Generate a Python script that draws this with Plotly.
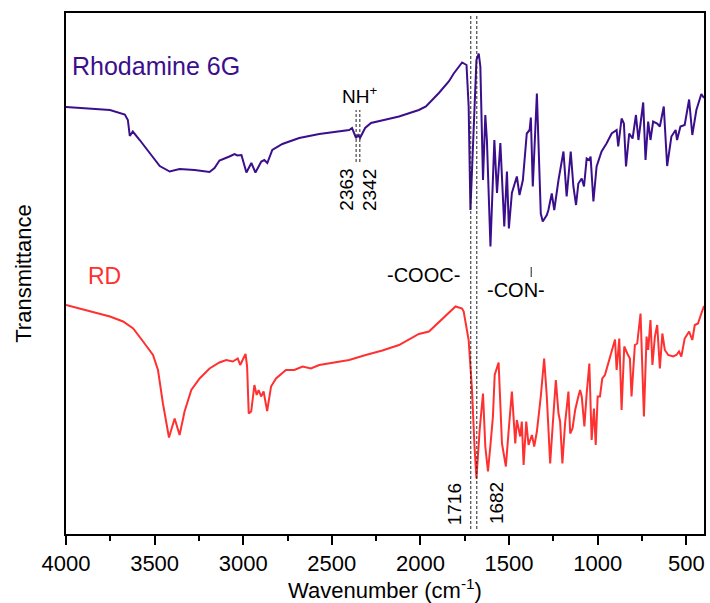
import plotly.graph_objects as go

# ---- data (wavenumber in cm^-1, transmittance in arbitrary offset units) ----
r6g_wn = [4000, 3752, 3668, 3651, 3640, 3623, 3584, 3527, 3471, 3415, 3359, 3274, 3190, 3162,
          3134, 3078, 3049, 3033, 3010, 2982, 2954, 2931, 2898, 2881, 2864, 2836, 2779, 2740,
          2684, 2571, 2459, 2402, 2386, 2363, 2352, 2341, 2312, 2279, 2206, 2121, 2009, 1969,
          1896, 1840, 1812, 1765, 1740, 1728, 1718, 1699, 1684, 1671, 1662, 1647, 1634, 1625,
          1605, 1583, 1568, 1549, 1527, 1512, 1501, 1484, 1456, 1441, 1422, 1400, 1384, 1377,
          1366, 1343, 1334, 1321, 1310, 1287, 1278, 1259, 1245, 1221, 1193, 1175, 1152, 1137,
          1122, 1109, 1090, 1077, 1062, 1047, 1040, 1024, 1006, 978, 950, 921, 893, 884, 865,
          852, 840, 822, 803, 784, 770, 743, 730, 715, 702, 687, 664, 649, 627, 608, 584, 560,
          552, 533, 509, 484, 466, 443, 415, 400]
r6g_T = [85.4, 84.8, 83.9, 82.8, 79.6, 80.5, 78.8, 76.2, 73.6, 72.5, 73.0, 72.8, 72.4, 73.2,
         74.7, 75.5, 76.0, 75.7, 75.8, 72.3, 74.2, 72.3, 74.5, 74.8, 74.2, 76.8, 78.0, 78.5,
         79.2, 80.0, 80.6, 80.8, 81.2, 79.2, 79.8, 79.2, 81.2, 82.2, 82.8, 83.5, 84.8, 85.5,
         88.2, 90.5, 92.1, 94.3, 93.8, 85.5, 64.8, 82.2, 94.8, 96.1, 93.5, 70.8, 83.8, 78.8,
         57.5, 78.8, 68.2, 78.2, 61.5, 72.5, 61.1, 68.2, 71.5, 67.8, 70.8, 80.1, 80.8, 83.3,
         69.5, 88.1, 78.8, 64.1, 62.5, 63.8, 64.8, 68.1, 64.8, 70.8, 76.5, 67.5, 76.5, 69.5,
         65.8, 70.1, 71.1, 69.5, 75.1, 74.8, 75.5, 66.5, 73.5, 76.5, 78.1, 80.1, 80.8, 77.5, 83.1,
         82.1, 73.5, 80.1, 79.1, 83.8, 78.8, 86.3, 74.8, 82.5, 78.8, 82.5, 82.1, 81.5, 85.5, 73.6,
         79.5, 80.8, 78.8, 81.5, 81.8, 86.9, 79.8, 84.8, 88.0, 87.2]

rd_wn = [4000, 3865, 3752, 3678, 3621, 3565, 3509, 3481, 3453, 3419, 3387, 3359, 3331, 3293,
         3246, 3190, 3134, 3096, 3059, 3031, 3017, 2987, 2978, 2969, 2955, 2937, 2924, 2913,
         2899, 2885, 2865, 2843, 2815, 2759, 2712, 2665, 2618, 2571, 2496, 2402, 2309, 2215,
         2121, 2009, 1952, 1896, 1840, 1802, 1765, 1756, 1728, 1709, 1695, 1684, 1666, 1647,
         1634, 1619, 1605, 1591, 1581, 1559, 1540, 1518, 1502, 1484, 1465, 1456, 1437, 1428,
         1418, 1403, 1390, 1371, 1358, 1343, 1321, 1302, 1287, 1268, 1253, 1236, 1221, 1212,
         1199, 1184, 1165, 1155, 1142, 1127, 1109, 1099, 1090, 1075, 1062, 1047, 1034, 1021,
         1011, 1000, 987, 974, 959, 930, 902, 893, 878, 865, 850, 833, 818, 809, 790, 777, 758,
         739, 724, 715, 702, 691, 677, 664, 649, 635, 621, 602, 574, 556, 541, 528, 509, 484,
         466, 452, 434, 415, 400]
rd_T = [45.8, 44.5, 43.5, 42.5, 41.1, 38.5, 35.8, 32.8, 26.1, 19.3, 23.1, 19.8, 24.5, 28.8,
        31.1, 33.1, 34.3, 34.8, 34.5, 35.1, 33.8, 36.0, 33.5, 24.1, 24.5, 29.8, 27.8, 28.8,
        27.5, 28.5, 24.6, 29.5, 31.1, 32.8, 32.8, 33.5, 33.1, 33.8, 34.3, 34.8, 35.8, 36.7,
        37.8, 40.0, 40.5, 42.3, 44.1, 45.5, 45.1, 44.5, 38.8, 28.8, 17.5, 11.1, 20.8, 28.1,
        17.5, 12.5, 17.8, 23.5, 31.8, 34.3, 18.1, 13.5, 20.8, 28.5, 18.1, 22.8, 19.5, 22.5,
        13.8, 22.5, 17.8, 19.8, 17.5, 20.5, 27.5, 35.1, 27.5, 14.1, 22.1, 30.8, 24.1, 22.5,
        14.1, 22.1, 28.5, 20.1, 21.1, 24.8, 27.5, 28.8, 27.5, 21.5, 28.1, 34.1, 18.8, 25.1,
        17.8, 27.5, 27.5, 31.1, 31.8, 35.5, 38.9, 32.8, 39.1, 24.8, 37.5, 36.1, 35.1, 27.5, 37.8,
        38.1, 44.1, 23.5, 39.5, 36.8, 42.8, 33.8, 39.5, 41.8, 33.1, 40.1, 36.8, 35.8, 35.5,
        35.8, 36.5, 35.5, 39.1, 40.5, 38.8, 41.8, 42.1, 44.1, 45.6]

nh_peaks = [2363, 2342]
main_peaks = [1716, 1682]
x_ticks = [4000, 3500, 3000, 2500, 2000, 1500, 1000, 500]

PURPLE = "#3b0f8c"
RED = "#ff3030"
FONT = "Liberation Sans, Arial, sans-serif"

fig = go.Figure()
fig.add_trace(go.Scatter(x=r6g_wn, y=r6g_T, mode="lines",
                         line=dict(color=PURPLE, width=2), showlegend=False))
fig.add_trace(go.Scatter(x=rd_wn, y=rd_T, mode="lines",
                         line=dict(color=RED, width=2), showlegend=False))

# dashed marker lines
for w in nh_peaks:
    fig.add_shape(type="line", x0=w, x1=w, y0=74.4, y1=84.8, xref="x", yref="y",
                  line=dict(color="#222", width=1, dash="3px,2px"))
for w in main_peaks:
    fig.add_shape(type="line", x0=w, x1=w, y0=1.0, y1=103.8, xref="x", yref="y",
                  line=dict(color="#222", width=1, dash="3px,2px"))
# small bond stroke above N of -CON-
fig.add_shape(type="line", x0=1375, x1=1375, y0=51.4, y1=53.4, xref="x", yref="y",
              line=dict(color="#222", width=1))

def ann(text, x, y, size, color="black", angle=0, xanchor="center"):
    fig.add_annotation(text=text, x=x, y=y, xref="x", yref="y", showarrow=False,
                       font=dict(family=FONT, size=size, color=color),
                       textangle=angle, xanchor=xanchor, yanchor="middle")

ann("Rhodamine 6G", 3977, 93.6, 25, PURPLE, xanchor="left")
ann("RD", 3887, 51.6, 23, RED, xanchor="left")
ann("NH<sup>+</sup>", 2346, 87.8, 19)
ann("2363", 2422, 68.8, 19, angle=-90)
ann("2342", 2290, 68.8, 19, angle=-90)
ann("1716", 1809, 6.0, 19, angle=-90)
ann("1682", 1573, 6.2, 19, angle=-90)
ann("-COOC-", 1981, 51.8, 20)
ann("-CON-", 1463, 48.8, 20)

fig.update_layout(
    width=710, height=603,
    margin=dict(l=66, r=4, t=13, b=69),
    paper_bgcolor="white", plot_bgcolor="white",
    font=dict(family=FONT, size=22, color="black"),
    xaxis=dict(range=[4000, 400], tickvals=x_ticks, ticks="outside", ticklen=9,
               tickwidth=2, tickcolor="black", showline=True, linecolor="black",
               linewidth=2, mirror=True, showgrid=False, zeroline=False,
               tickfont=dict(size=22),
               minor=dict(dtick=250, tick0=0, ticks="outside", ticklen=5, tickwidth=2,
                          tickcolor="black", showgrid=False),
               title=dict(text="Wavenumber (cm<sup>-1</sup>)", font=dict(size=22), standoff=4)),
    yaxis=dict(range=[0, 104.2], showticklabels=False, ticks="", showline=True,
               linecolor="black", linewidth=2, mirror=True, showgrid=False, zeroline=False,
               title=dict(text="Transmittance", font=dict(size=22), standoff=26)),
)

fig.write_html("out.html")
